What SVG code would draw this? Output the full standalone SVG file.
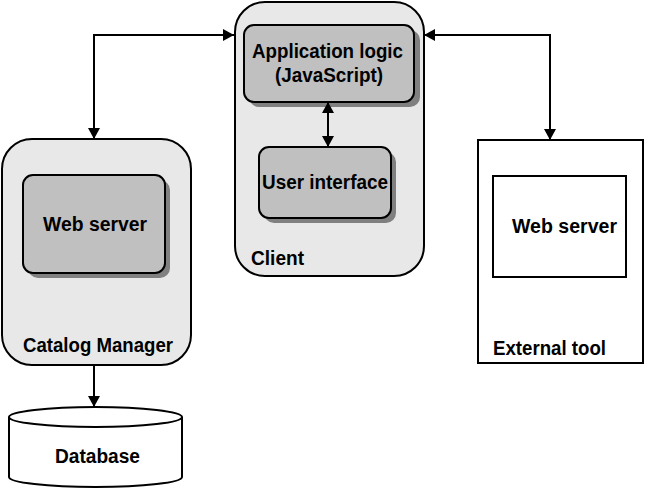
<svg xmlns="http://www.w3.org/2000/svg" width="657" height="488" viewBox="0 0 657 488">
<style>
.cont{fill:#e8e8e8;stroke:#000;stroke-width:2}
.box{fill:#c0c0c0;stroke:#000;stroke-width:2}
.shadow{fill:#808080}
.plain{fill:#fff;stroke:#000;stroke-width:2}
.t{font-family:"Liberation Sans",Arial,sans-serif;font-weight:bold;font-size:19.5px;fill:#000}
.conn{fill:none;stroke:#000;stroke-width:2}
</style>
<defs>
<marker id="ah" viewBox="0 0 11 12" refX="11" refY="6" markerWidth="11" markerHeight="12" markerUnits="userSpaceOnUse" orient="auto-start-reverse">
<path d="M0,0 L11,6 L0,12 Z" fill="#000"/>
</marker>
</defs>
<rect width="657" height="488" fill="#fff"/>
<g id="client">
<rect class="cont" x="235" y="2" width="189" height="274" rx="30"/>
<text class="t" x="251" y="265" textLength="53" lengthAdjust="spacingAndGlyphs">Client</text>
</g>
<g id="app-logic">
<rect class="shadow" x="249" y="30" width="171" height="77" rx="10"/>
<rect class="box" x="244" y="25" width="170" height="77" rx="10"/>
<text class="t" x="252" y="58" textLength="151" lengthAdjust="spacingAndGlyphs">Application logic</text>
<text class="t" x="275" y="82" textLength="108" lengthAdjust="spacingAndGlyphs">(JavaScript)</text>
</g>
<g id="user-interface">
<rect class="shadow" x="264" y="152" width="132" height="71" rx="10"/>
<rect class="box" x="259" y="147" width="132" height="71" rx="10"/>
<text class="t" x="262" y="189" textLength="126" lengthAdjust="spacingAndGlyphs">User interface</text>
</g>
<g id="catalog-manager">
<rect class="cont" x="2" y="139" width="189" height="226" rx="30"/>
<text class="t" x="23" y="352" textLength="150" lengthAdjust="spacingAndGlyphs">Catalog Manager</text>
</g>
<g id="catalog-web-server">
<rect class="shadow" x="28" y="180" width="142" height="98" rx="10"/>
<rect class="box" x="23" y="175" width="142" height="98" rx="10"/>
<text class="t" x="43" y="231" textLength="104" lengthAdjust="spacingAndGlyphs">Web server</text>
</g>
<g id="external-tool">
<rect class="plain" x="478" y="140" width="165" height="223"/>
<text class="t" x="493" y="355" textLength="113" lengthAdjust="spacingAndGlyphs">External tool</text>
</g>
<g id="external-web-server">
<rect class="plain" x="493" y="176" width="133" height="101"/>
<text class="t" x="512" y="233" textLength="105" lengthAdjust="spacingAndGlyphs">Web server</text>
</g>
<g id="database">
<path class="plain" d="M9,417 A86.5,10 0 0 1 182,417 L182,477 A86.5,10 0 0 1 9,477 Z"/>
<path class="conn" d="M9,417 A86.5,10 0 0 0 182,417"/>
<text class="t" x="55" y="463" textLength="85" lengthAdjust="spacingAndGlyphs">Database</text>
</g>
<g id="connectors">
<path class="conn" d="M94,139 L94,35 L234,35" marker-start="url(#ah)" marker-end="url(#ah)"/>
<path class="conn" d="M424,35 L550,35 L550,140" marker-start="url(#ah)" marker-end="url(#ah)"/>
<path class="conn" d="M328,102 L328,147" marker-start="url(#ah)" marker-end="url(#ah)"/>
<path class="conn" d="M94,365 L94,407" marker-end="url(#ah)"/>
</g>
</svg>
